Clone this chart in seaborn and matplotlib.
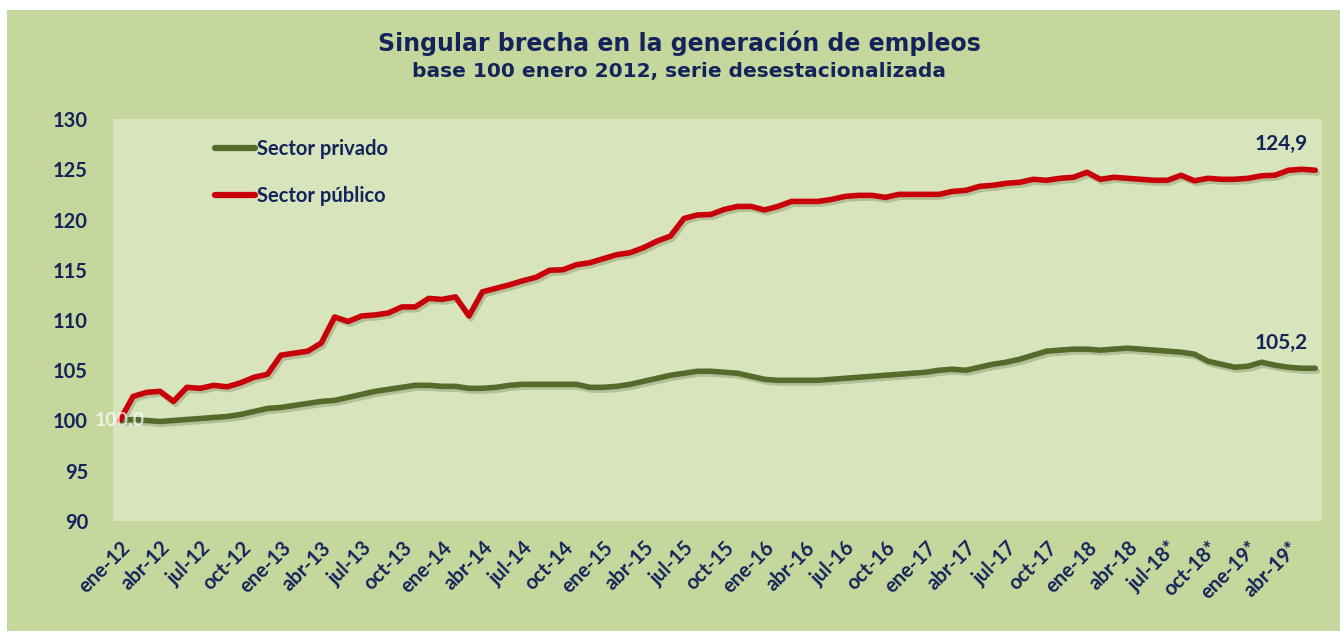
import numpy as np
import pandas as pd
import matplotlib
matplotlib.use("Agg")
import matplotlib.pyplot as plt
import matplotlib.patheffects as pe
import seaborn as sns

# ---- data ----
months_es = ["ene", "feb", "mar", "abr", "may", "jun", "jul", "ago", "sep", "oct", "nov", "dic"]
years = [12, 13, 14, 15, 16, 17, 18, 19]
periods = [f"{m}-{y}" + ("*" if (y == 18 and i >= 6) or y == 19 else "")
           for y in years for i, m in enumerate(months_es)][:90]

sector_publico = [
    100.0, 102.4, 102.8, 102.9, 101.9, 103.3, 103.2, 103.5, 103.35, 103.75,
    104.3, 104.6, 106.5, 106.7, 106.9, 107.7, 110.3, 109.85, 110.4, 110.5,
    110.7, 111.3, 111.3, 112.15, 112.05, 112.3, 110.4, 112.8, 113.15, 113.5,
    113.9, 114.25, 114.95, 115.0, 115.5, 115.7, 116.1, 116.5, 116.7, 117.2,
    117.85, 118.35, 120.1, 120.45, 120.5, 121.0, 121.3, 121.3, 120.95, 121.3,
    121.8, 121.8, 121.8, 122.0, 122.3, 122.4, 122.4, 122.2, 122.5, 122.5,
    122.5, 122.5, 122.8, 122.9, 123.3, 123.4, 123.6, 123.7, 124.0, 123.9,
    124.1, 124.2, 124.7, 124.0, 124.2, 124.1, 124.0, 123.9, 123.9, 124.4,
    123.85, 124.1, 124.0, 124.0, 124.1, 124.35, 124.4, 124.9, 125.0, 124.9,
]
sector_privado = [
    100.0, 100.1, 100.0, 99.9, 100.0, 100.1, 100.2, 100.3, 100.4, 100.6,
    100.9, 101.2, 101.3, 101.5, 101.7, 101.9, 102.0, 102.3, 102.6, 102.9,
    103.1, 103.3, 103.5, 103.5, 103.4, 103.4, 103.2, 103.2, 103.3, 103.5,
    103.6, 103.6, 103.6, 103.6, 103.6, 103.3, 103.3, 103.4, 103.6, 103.9,
    104.2, 104.5, 104.7, 104.9, 104.9, 104.8, 104.7, 104.4, 104.1, 104.0,
    104.0, 104.0, 104.0, 104.1, 104.2, 104.3, 104.4, 104.5, 104.6, 104.7,
    104.8, 105.0, 105.1, 105.0, 105.3, 105.6, 105.8, 106.1, 106.5, 106.9,
    107.0, 107.1, 107.1, 107.0, 107.1, 107.2, 107.1, 107.0, 106.9, 106.8,
    106.6, 105.9, 105.6, 105.3, 105.4, 105.8, 105.5, 105.3, 105.2, 105.2,
]
series_names = ["Sector privado", "Sector público"]
y_ticks = [90, 95, 100, 105, 110, 115, 120, 125, 130]
end_labels = ["105,2", "124,9"]
start_label = "100.0"

# ---- style ----
NAVY = "#14245a"
OUTER = "#c5d79d"
INNER = "#d8e4bb"
sns.set_theme(style="white")
plt.rcParams["font.family"] = ["Lato", "DejaVu Sans"]

df = pd.DataFrame({
    "idx": list(range(len(periods))) * 2,
    "valor": sector_privado + sector_publico,
    "serie": [series_names[0]] * len(periods) + [series_names[1]] * len(periods),
})

fig = plt.figure(figsize=(13.4, 6.37), dpi=100)
fig.patch.set_facecolor("white")
fig.add_artist(plt.Rectangle((7 / 1340, 6 / 637), 1 - 7 / 1340, 1 - 16 / 637,
                             transform=fig.transFigure, facecolor=OUTER,
                             edgecolor="none", zorder=-10))

ax = fig.add_axes([113 / 1340, 1 - 521 / 637, (1322 - 113) / 1340, (521 - 119) / 637])
ax.set_facecolor(INNER)

palette = {series_names[0]: "#546b2c", series_names[1]: "#c8000a"}
sns.lineplot(data=df, x="idx", y="valor", hue="serie", palette=palette,
             linewidth=4.0, ax=ax, legend=False, sort=False)
for ln in ax.get_lines():
    ln.set_path_effects([pe.SimpleLineShadow(offset=(1.5, -2), shadow_color="#6f7f55", alpha=0.35),
                         pe.Normal()])
    ln.set_solid_capstyle("round")

ax.set_xlim(-0.5, len(periods) - 0.5)
ax.set_ylim(90, 130)
ax.set_yticks(y_ticks)
ax.set_yticklabels([str(v) for v in y_ticks], fontsize=14.5, fontweight="bold", color=NAVY)
tick_pos = list(range(0, len(periods), 3))
ax.set_xticks(tick_pos)
ax.set_xticklabels([periods[i] for i in tick_pos], rotation=45, ha="right",
                   rotation_mode="anchor", fontsize=14.5, fontweight="bold", color=NAVY)
ax.tick_params(axis="y", length=0, pad=18)
ax.tick_params(axis="x", length=0, pad=12)
for s in ax.spines.values():
    s.set_visible(False)
ax.set_xlabel("")
ax.set_ylabel("")

# legend (line sample + text)
leg_handles = [plt.Line2D([], [], color=palette[n], lw=4.5) for n in series_names]
leg = ax.legend(leg_handles, series_names, loc="upper left", bbox_to_anchor=(0.069, 0.995),
                frameon=False, handlelength=2.0, handletextpad=0.12, labelspacing=1.35,
                prop={"family": "Lato", "weight": "bold", "size": 14.5})
for t in leg.get_texts():
    t.set_color(NAVY)

# end-value labels
ax.text(len(periods) - 3.5, sector_publico[-1] + 2.6, end_labels[1], fontsize=15,
        fontweight="bold", color=NAVY, ha="center", va="center")
ax.text(len(periods) - 3.5, sector_privado[-1] + 2.55, end_labels[0], fontsize=15,
        fontweight="bold", color=NAVY, ha="center", va="center")
ax.text(0, 100, start_label, fontsize=14, color="white", alpha=0.7,
        ha="center", va="center", fontweight="bold", clip_on=False)

# titles
fig.text(0.507, 1 - 43 / 637, "Singular brecha en la generación de empleos",
         ha="center", va="center", fontsize=17, fontweight="bold", color=NAVY,
         family="DejaVu Sans")
fig.text(0.507, 1 - 72 / 637, "base 100 enero 2012, serie desestacionalizada",
         ha="center", va="center", fontsize=14.5, fontweight="bold", color=NAVY,
         family="DejaVu Sans")

fig.savefig("out.png", dpi=100, facecolor=fig.get_facecolor())
